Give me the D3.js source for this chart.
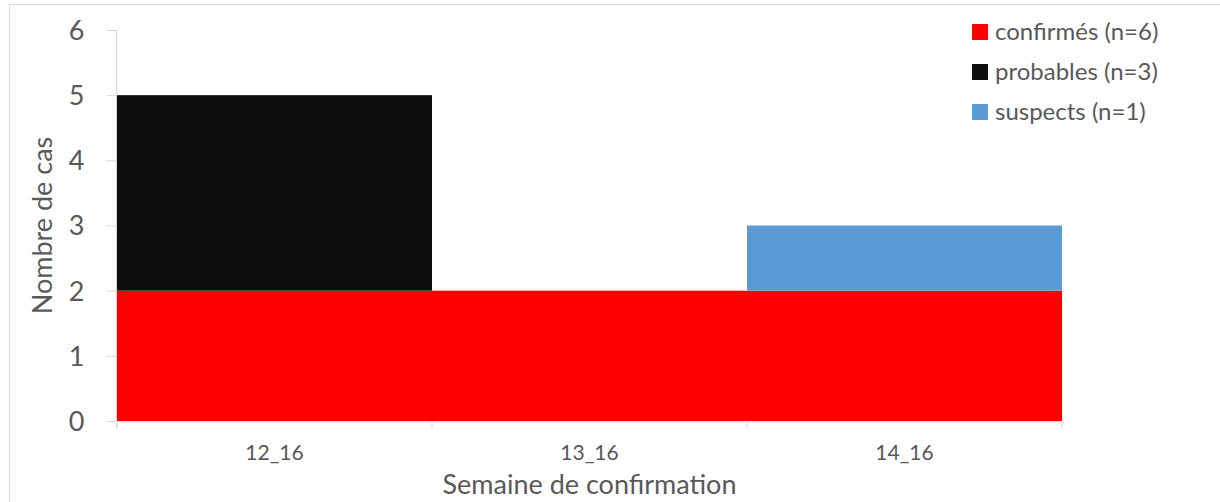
<!DOCTYPE html>
<html>
<head>
<meta charset="utf-8">
<script src="https://cdn.jsdelivr.net/npm/d3@7"></script>
<style>
  body { margin: 0; background: #fff; }
  text { font-family: Lato, "Open Sans", sans-serif; fill: #595959; }
</style>
</head>
<body>
<div id="chart"></div>
<script>
  // data
  var weeks = ['12_16', '13_16', '14_16'];
  var confirmes = [2, 2, 2];
  var probables = [3, 0, 0];
  var suspects = [0, 0, 1];
  var seriesNames = ['confirmés (n=6)', 'probables (n=3)', 'suspects (n=1)'];
  var seriesColors = ['#ff0000', '#0d0d0d', '#5b9bd5'];
  var yTicks = [0, 1, 2, 3, 4, 5, 6];

  var W = 1220, H = 502;
  var margin = {left: 117, right: 158, top: 30, bottom: 81};

  var svg = d3.select('#chart').append('svg:svg')
      .attr('width', W).attr('height', H);

  // chart border
  svg.append('rect').attr('x', 9.5).attr('y', 4.5)
      .attr('width', W).attr('height', H)
      .attr('fill', 'none').attr('stroke', '#d9d9d9');

  var x = d3.scaleBand().domain(weeks)
      .range([margin.left, W - margin.right]).padding(0);
  var y = d3.scaleLinear().domain([0, 6])
      .range([H - margin.bottom, margin.top]);

  // stack the series
  var rows = weeks.map(function(w, i) {
    return {week: w, c: confirmes[i], p: probables[i], s: suspects[i]};
  });
  var stack = d3.stack().keys(['c', 'p', 's'])(rows);

  stack.forEach(function(layer, k) {
    svg.append('g').selectAll('rect').data(layer).enter()
        .append('rect')
        .attr('x', function(d) { return x(d.data.week); })
        .attr('width', x.bandwidth())
        .attr('y', function(d) { return y(d[1]); })
        .attr('height', function(d) { return y(d[0]) - y(d[1]); })
        .attr('fill', seriesColors[k]);
  });

  // y axis
  var yAxis = svg.append('g')
      .attr('transform', 'translate(' + (margin.left - 0.5) + ',0)')
      .call(d3.axisLeft(y).tickValues(yTicks).tickFormat(d3.format('d'))
          .tickSize(10).tickPadding(22));
  yAxis.selectAll('line, path').attr('stroke', '#d9d9d9');
  yAxis.select('path').attr('d', 'M0,' + y(6) + 'V' + (y(0) + 7));
  yAxis.selectAll('text').style('font-size', '27px').attr('fill', '#595959')
      .attr('dy', '0.35em');

  // x axis: ticks at category boundaries
  var xAxis = svg.append('g')
      .attr('transform', 'translate(0,' + (y(0) + 0.5) + ')');
  xAxis.append('line').attr('x1', margin.left).attr('x2', W - margin.right)
      .attr('stroke', '#d9d9d9');
  var bounds = weeks.map(function(w) { return x(w); }).concat([x(weeks[weeks.length - 1]) + x.bandwidth()]);
  xAxis.selectAll('line.tk').data(bounds).enter().append('line')
      .attr('class', 'tk')
      .attr('x1', function(d) { return d; }).attr('x2', function(d) { return d; })
      .attr('y1', 0).attr('y2', 7)
      .attr('stroke', '#d9d9d9');
  xAxis.selectAll('text').data(weeks).enter().append('text')
      .attr('x', function(d) { return x(d) + x.bandwidth() / 2; })
      .attr('y', 38)
      .attr('text-anchor', 'middle')
      .style('font-size', '21px')
      .text(function(d) { return d; });

  // axis titles
  svg.append('text').attr('x', (margin.left + W - margin.right) / 2).attr('y', 494)
      .attr('text-anchor', 'middle').style('font-size', '27px')
      .text('Semaine de confirmation');
  svg.append('text')
      .attr('transform', 'translate(52,' + ((y(0) + y(6)) / 2) + ') rotate(-90)')
      .attr('text-anchor', 'middle').style('font-size', '27px')
      .text('Nombre de cas');

  // legend
  var legend = svg.append('g').attr('transform', 'translate(972,24)');
  seriesNames.forEach(function(name, i) {
    legend.append('rect').attr('x', 0).attr('y', i * 40)
        .attr('width', 16).attr('height', 16).attr('fill', seriesColors[i]);
    legend.append('text').attr('x', 23).attr('y', i * 40 + 8)
        .attr('dy', '0.35em').style('font-size', '24px').text(name);
  });
</script>
</body>
</html>
